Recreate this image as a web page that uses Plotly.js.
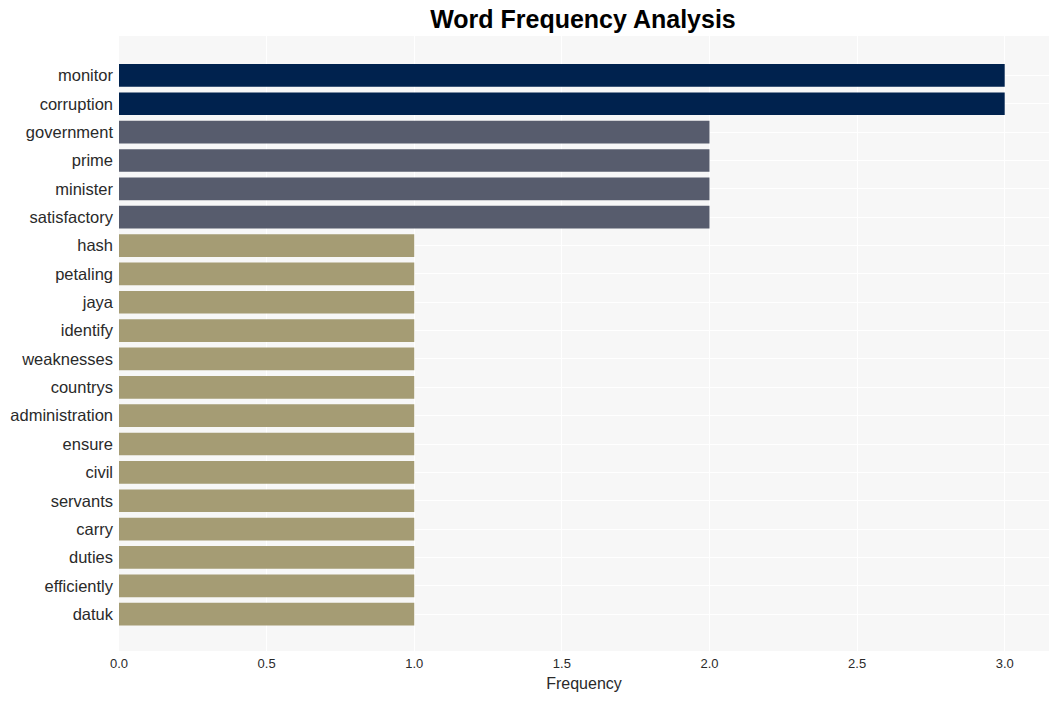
<!DOCTYPE html>
<html>
<head>
<meta charset="utf-8">
<script src="https://cdn.plot.ly/plotly-3.0.1.min.js"></script>
<style>html,body{margin:0;padding:0;background:#fff;}#chart{width:1058px;height:701px;}</style>
</head>
<body>
<div id="chart"></div>
<script>
const words = ["monitor","corruption","government","prime","minister","satisfactory","hash","petaling","jaya","identify","weaknesses","countrys","administration","ensure","civil","servants","carry","duties","efficiently","datuk"];
const counts = [3,3,2,2,2,2,1,1,1,1,1,1,1,1,1,1,1,1,1,1];
const colorByCount = {3:"#00224e", 2:"#575c6d", 1:"#a59c74"};
const barColors = counts.map(c => colorByCount[c]);

const trace = {
  type: "bar",
  orientation: "h",
  x: counts,
  y: words,
  width: 0.8,
  marker: {color: barColors},
  hoverinfo: "x+y"
};

const layout = {
  width: 1058,
  height: 701,
  margin: {l: 119, r: 9, t: 36, b: 50},
  paper_bgcolor: "#ffffff",
  plot_bgcolor: "#f7f7f7",
  font: {family: "Liberation Sans, Arial, sans-serif", color: "#2a2a2a"},
  title: {text: "<b>Word Frequency Analysis</b>", x: 0.551, xanchor: "center", y: 0.972, yanchor: "middle", font: {size: 25, color: "#000000"}},
  xaxis: {
    range: [0, 3.15],
    dtick: 0.5,
    tickformat: ".1f",
    gridcolor: "#ffffff",
    gridwidth: 1,
    zeroline: false,
    showline: false,
    ticks: "",
    ticklabelstandoff: 3,
    tickfont: {size: 13},
    title: {text: "Frequency", font: {size: 16}, standoff: 7}
  },
  yaxis: {
    type: "category",
    range: [20.3, -1.39],
    gridcolor: "#ffffff",
    gridwidth: 1,
    zeroline: false,
    showline: false,
    ticks: "",
    ticklabelstandoff: 5,
    tickfont: {size: 16.5}
  },
  showlegend: false,
  bargap: 0.2
};

Plotly.newPlot("chart", [trace], layout, {displayModeBar: false, staticPlot: true});
</script>
</body>
</html>
